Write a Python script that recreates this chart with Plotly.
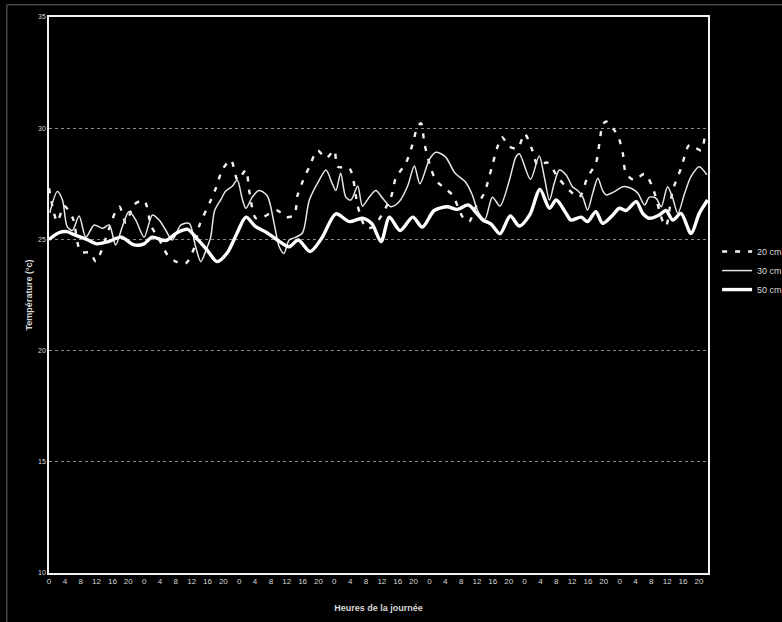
import plotly.graph_objects as go

# ---- data ----
hours_20 = [0, 2.1, 3.8, 6, 8, 10.5, 11.8, 15.2, 16.8, 17.8, 19.4, 21.5, 24, 25.8, 27.8, 29.9, 32, 34.5,
            36.6, 37.9, 40.8, 42.1, 43.8, 45.9, 47.6, 49.7, 50.5, 52.2, 53.9, 57.6, 59.8, 61.9, 62.7, 64,
            65.7, 67.8, 69.9, 72, 72.8, 75.8, 77.9, 79.5, 80.4, 82, 86.3, 87.5, 90.1, 91.7, 93, 93.9, 94.7,
            96, 97.6, 100.2, 101.8, 104.4, 105.6, 106.1, 107.8, 109.8, 111.9, 113.2, 114.3, 116.2, 118.3,
            120, 122, 123.3, 125.8, 128.4, 130.8, 133.8, 135.9, 138, 138.9, 139.7, 140.6, 142.7, 143.9,
            144.8, 145.6, 147.7, 150.3, 152.3, 154.9, 155.7, 157.4, 159.5, 161.6, 163.3, 164.6, 165.6]
temp_20 = [27.3, 25.8, 26.5, 25.95, 24.45, 24.4, 24.0, 25.5, 26.25, 26.47, 25.75, 26.57, 26.75, 25.6, 25.0,
           24.3, 24.0, 23.92, 24.6, 25.6, 26.75, 27.3, 28.15, 28.57, 27.67, 28.12, 27.2, 25.95, 26.0, 26.3,
           26.0, 26.1, 26.97, 27.6, 28.27, 29.0, 28.65, 29.0, 28.27, 28.2, 26.5, 25.65, 25.5, 25.6, 26.9,
           27.75, 28.45, 29.25, 30.07, 30.22, 29.35, 28.42, 27.67, 27.25, 27.0, 26.0, 25.8, 25.8, 26.5,
           27.07, 28.35, 29.17, 29.6, 29.17, 29.1, 29.75, 29.0, 28.35, 28.45, 27.8, 27.3, 26.9, 27.8,
           28.42, 29.32, 30.15, 30.3, 29.9, 29.5, 28.87, 27.97, 27.67, 27.95, 27.35, 25.8, 25.6, 27.2,
           28.2, 29.25, 29.1, 29.0, 29.8]

hours_30 = [0.2, 2.1, 3.4, 4.6, 5.9, 7.6, 9.3, 11.4, 13.5, 15.2, 16.8, 18.5, 20.2, 21.9, 24, 26.1, 27.8,
            29.5, 31.1, 33.3, 35.4, 37, 38.3, 39.6, 40.8, 41.8, 43.4, 44.5, 46.3, 47.5, 48.8, 49.7, 51.3,
            53, 55.1, 56.8, 58.1, 59.3, 60.6, 62.3, 64, 65.7, 68.2, 69.9, 71.5, 72.4, 73.6, 74.9, 76.2,
            77.9, 79.1, 80.8, 82.5, 84.2, 86.3, 88.4, 90.5, 92.2, 93.6, 96, 97.6, 100, 102.5, 105, 106.7,
            108.4, 110, 111.9, 113.8, 116.2, 117.8, 118.7, 121.5, 123.7, 125, 126.3, 127.5, 128.8, 130.5,
            132.1, 133.4, 134.7, 135.9, 137.2, 138.5, 139.7, 140.6, 142.7, 144.8, 146.9, 148.6, 150.3,
            151.5, 153.2, 154.5, 156.1, 157.4, 158.7, 160.4, 162, 164.1, 166]
temp_30 = [26.2, 27.15, 26.77, 25.57, 25.4, 26.05, 25.1, 25.65, 25.5, 25.65, 24.75, 25.57, 26.25, 25.87,
           25.1, 26.1, 25.87, 25.4, 24.97, 25.65, 25.72, 24.67, 24.0, 24.5, 25.1, 26.3, 26.8, 27.15, 27.4,
           27.67, 26.8, 26.4, 26.9, 27.2, 26.95, 25.72, 24.67, 24.37, 24.97, 25.1, 25.3, 26.77, 27.67,
           28.12, 27.5, 27.2, 27.97, 26.9, 26.77, 27.4, 26.5, 26.9, 27.2, 26.85, 26.47, 26.7, 27.4, 28.3,
           27.5, 28.6, 28.92, 28.72, 27.97, 27.6, 27.05, 26.2, 25.9, 26.9, 26.5, 27.67, 28.7, 28.85, 27.7,
           28.75, 27.8, 26.77, 27.52, 28.12, 27.9, 27.37, 27.2, 26.9, 26.32, 27.07, 27.75, 27.2, 27.0,
           27.15, 27.37, 27.3, 27.07, 26.55, 26.9, 26.85, 26.47, 27.37, 26.85, 26.17, 27.07, 27.82, 28.27,
           27.9]

hours_50 = [0, 2.5, 4.5, 6.5, 9.5, 12, 15, 18.2, 21.5, 24, 26, 29.5, 32.3, 35, 37.5, 40, 42.4, 45, 47.5,
            49.7, 52, 55, 58.2, 60.6, 62.9, 65.9, 68.8, 72.4, 75.8, 79.1, 81.5, 83.8, 85.9, 88.6, 91.8,
            94.2, 97.2, 100.5, 103, 105.8, 107.8, 109.5, 111.5, 113.8, 116.4, 118.7, 121.3, 123.9, 126.3,
            128, 130.5, 131.7, 134.3, 135.9, 138, 139.7, 142.3, 143.9, 145.6, 148.2, 149.8, 151.5, 154,
            155.7, 157.4, 159.5, 162, 164.1, 166.2]
temp_50 = [25.0, 25.3, 25.35, 25.2, 25.0, 24.8, 24.9, 25.1, 24.75, 24.8, 25.1, 24.95, 25.3, 25.45, 25.0,
           24.5, 24.0, 24.4, 25.3, 26.0, 25.6, 25.3, 24.9, 24.67, 24.97, 24.45, 25.05, 26.15, 25.8, 25.95,
           25.7, 24.9, 26.0, 25.4, 26.0, 25.55, 26.3, 26.47, 26.35, 26.55, 26.2, 25.87, 25.7, 25.25,
           26.05, 25.6, 26.1, 27.25, 26.4, 26.77, 26.17, 25.87, 26.0, 25.8, 26.25, 25.72, 26.1, 26.4,
           26.3, 26.7, 26.17, 25.95, 26.1, 26.3, 25.87, 26.17, 25.27, 26.17, 26.77]

tick_hours = list(range(0, 168, 4))
tick_labels = [str(h % 24) for h in tick_hours]
y_ticks = [10, 15, 20, 25, 30, 35]

LINE = "#f2f2f2"
TXT = "#d8d8d8"
FONT = "Liberation Sans, Arial, sans-serif"

fig = go.Figure()
fig.add_trace(go.Scatter(x=hours_20, y=temp_20, mode="lines", name="20 cm",
                         line=dict(color=LINE, width=2.4, dash="5px,8px", shape="spline", smoothing=0.8)))
fig.add_trace(go.Scatter(x=hours_30, y=temp_30, mode="lines", name="30 cm",
                         line=dict(color="#e6e6e6", width=1.5, shape="spline", smoothing=0.8)))
fig.add_trace(go.Scatter(x=hours_50, y=temp_50, mode="lines", name="50 cm",
                         line=dict(color="#ffffff", width=3.4, shape="spline", smoothing=0.8)))

fig.update_layout(
    width=782, height=622,
    paper_bgcolor="black", plot_bgcolor="black",
    margin=dict(l=49, r=74, t=17, b=49, autoexpand=False),
    font=dict(family=FONT, color=TXT, size=8),
    showlegend=True,
    legend=dict(xref="container", yref="container", x=0.917, xanchor="left", y=0.565, yanchor="middle",
                bgcolor="rgba(0,0,0,0)", font=dict(size=9, color=TXT),
                itemwidth=30, tracegroupgap=0),
)
fig.update_xaxes(
    range=[0, 166.3], tickmode="array", tickvals=tick_hours, ticktext=tick_labels,
    showgrid=False, zeroline=False, automargin=False,
    showline=True, linecolor=LINE, linewidth=1.5, mirror=True,
    ticks="", tickfont=dict(size=8, color=TXT),
    title=dict(text="<b>Heures de la journée</b>", font=dict(size=9, color=TXT), standoff=19),
)
fig.update_yaxes(
    range=[10, 35], tickmode="array", tickvals=y_ticks,
    showgrid=True, gridcolor="#8a8a8a", griddash="dot", gridwidth=1,
    zeroline=False, automargin=False,
    showline=True, linecolor=LINE, linewidth=1.5, mirror=True,
    ticks="", tickfont=dict(size=7, color=TXT),
    title=dict(text="<b>Température (°c)</b>", font=dict(size=9, color=TXT), standoff=4),
)

# faint scan border on left and top
fig.add_shape(type="line", xref="paper", yref="paper", x0=-0.064, x1=-0.064, y0=1.022, y1=-0.1,
              line=dict(color="#6a6a6a", width=1))
fig.add_shape(type="line", xref="paper", yref="paper", x0=-0.064, x1=1.12, y0=1.022, y1=1.022,
              line=dict(color="#6a6a6a", width=1))

fig.write_html("out.html", config={"displayModeBar": False},
               post_script="document.body.style.margin='0';document.body.style.background='black';")
